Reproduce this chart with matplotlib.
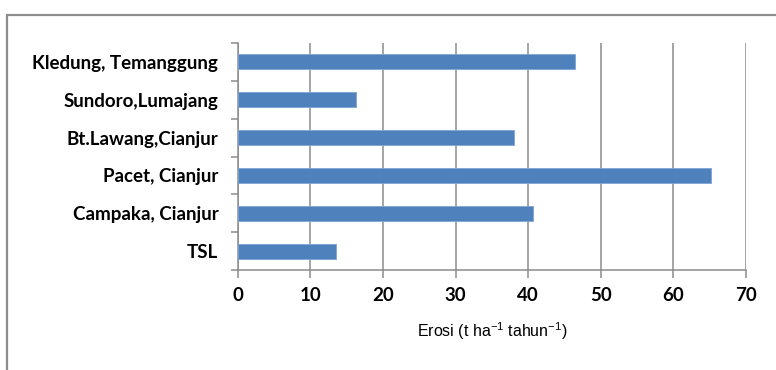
import numpy as np
import matplotlib
matplotlib.use("Agg")
import matplotlib.pyplot as plt
from matplotlib.patches import Rectangle

# data, bottom to top
lokasi = ['TSL', 'Campaka, Cianjur', 'Pacet, Cianjur', 'Bt.Lawang,Cianjur',
          'Sundoro,Lumajang', 'Kledung, Temanggung']
erosi = [13.5, 40.6, 65.2, 38.0, 16.3, 46.5]
xticks = [0, 10, 20, 30, 40, 50, 60, 70]

plt.rcParams['mathtext.fontset'] = 'custom'
plt.rcParams['mathtext.rm'] = 'Liberation Sans'
plt.rcParams['mathtext.it'] = 'Liberation Sans'

fig = plt.figure(figsize=(7.76, 3.70), dpi=100)
ax = fig.add_axes([237.7/776, 1-270/370, 508.3/776, 227/370])

# outer chart frame (runs off the right and bottom edge)
fig.patches.append(Rectangle((7/776, -0.1), 1.2, 1.1 - 15/370, transform=fig.transFigure,
                             fill=False, edgecolor='#8c8c8c', linewidth=1.6))

y = np.arange(len(lokasi))
ax.barh(y, erosi, height=0.4, color='#4f81bd', edgecolor='#7fa4d3', linewidth=0.6, zorder=3)

ax.set_xlim(0, 70)
ax.set_ylim(-0.5, len(lokasi) - 0.5)
ax.set_xticks(xticks)
ax.set_yticks(np.arange(len(lokasi) + 1) - 0.5)
ax.set_yticklabels([])
ax.set_yticks(y, minor=True)
ax.set_yticklabels(lokasi, minor=True)
ax.tick_params(axis='y', which='minor', length=0, pad=14)
ax.tick_params(axis='y', which='major', length=5, color='#8c8c8c', width=1.1)
ax.tick_params(axis='x', length=6, color='#8c8c8c', width=1.1, pad=6)
for lab in ax.get_yticklabels(minor=True) + ax.get_xticklabels():
    lab.set_fontfamily('Lato')
    lab.set_fontweight('bold')
    lab.set_fontsize(13.5)

ax.grid(axis='x', color='#8c8c8c', linewidth=1.1, zorder=0)
for s in ['top', 'right']:
    ax.spines[s].set_visible(False)
for s in ['left', 'bottom']:
    ax.spines[s].set_color('#8c8c8c')
    ax.spines[s].set_linewidth(1.1)

ax.set_xlabel('Erosi (t ha$^{\\mathrm{-1}}$ tahun$^{\\mathrm{-1}}$)', fontfamily='Liberation Sans',
              fontsize=11.5, labelpad=12)

fig.savefig('out.png', dpi=100)
